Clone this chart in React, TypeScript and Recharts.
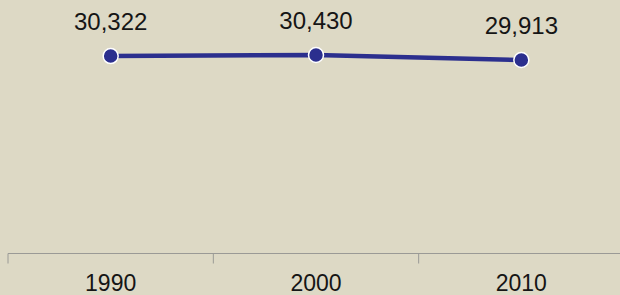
import React from 'react';
import { LineChart, Line, XAxis, YAxis, LabelList } from 'recharts';

const years = ['1990', '2000', '2010'];
const population = [30322, 30430, 29913];
const boundaryTicks = [0, 1, 2, 3];
const centerTicks = [0.5, 1.5, 2.5];

const data = years.map((year, i) => ({ pos: i + 0.5, year, value: population[i] }));
const allTicks = [...boundaryTicks, ...centerTicks].sort((a, b) => a - b);

const FONT = '"Liberation Sans", Arial, Helvetica, sans-serif';
const LINE_COLOR = '#2b2f8e';

const AxisTick = (props: any) => {
  const { x, y, payload } = props;
  const v = payload.value as number;
  if (Number.isInteger(v)) {
    return <line x1={x} x2={x} y1={y} y2={y + 10} stroke="#9a9a96" strokeWidth={1} />;
  }
  const idx = Math.floor(v);
  return (
    <text x={x} y={y + 37} textAnchor="middle" fontFamily={FONT} fontSize={23} fill="#151515">
      {years[idx]}
    </text>
  );
};

const fmt = (v: any) => Number(v).toLocaleString('en-US');

export default function App() {
  return (
    <div style={{ position: 'absolute', left: 0, top: 0, width: 620, height: 295, overflow: 'hidden', background: '#ddd9c5' }}>
      <LineChart width={624} height={295} data={data} margin={{ top: 10.6, right: 0, bottom: 0, left: 8 }}>
        <XAxis
          dataKey="pos"
          type="number"
          domain={[0, 3]}
          ticks={allTicks}
          interval={0}
          tickLine={false}
          tickSize={0}
          tickMargin={0}
          height={41.5}
          axisLine={{ stroke: '#9a9a96', strokeWidth: 1 }}
          tick={<AxisTick />}
        />
        <YAxis hide domain={[10000, 35000]} allowDataOverflow />
        <Line
          dataKey="value"
          stroke={LINE_COLOR}
          strokeWidth={4.5}
          isAnimationActive={false}
          dot={{ r: 7.5, fill: LINE_COLOR, stroke: '#ffffff', strokeWidth: 1.5 }}
          activeDot={false}
        >
          <LabelList
            dataKey="value"
            position="top"
            offset={26}
            formatter={fmt}
            style={{ fontFamily: FONT, fontSize: 24, fill: '#151515' }}
          />
        </Line>
      </LineChart>
    </div>
  );
}
